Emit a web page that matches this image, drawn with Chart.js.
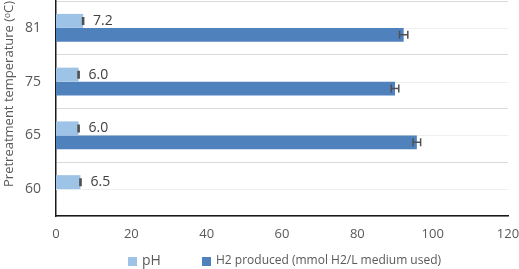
<!DOCTYPE html>
<html>
<head>
<meta charset="utf-8">
<script src="https://cdn.jsdelivr.net/npm/chart.js@4"></script>
<style>
  html, body { margin: 0; padding: 0; background: #fff; }
  #wrap { width: 519px; height: 269px; position: relative; }
</style>
</head>
<body>
<div id="wrap"><canvas id="chart"></canvas></div>
<script>
// temperatures, top to bottom as drawn
var categories = ['81', '75', '65', '60'];
var phValues = [7.2, 6.0, 6.0, 6.5];
var phErrors = [0.15, 0.15, 0.15, 0.15];
var h2Values = [92.3, 90.0, 95.8, null];
var h2Errors = [1.1, 1.0, 1.0, 0];
var xTicks = [0, 20, 40, 60, 80, 100, 120];

var FONT = '"Open Sans", sans-serif';
var grey = '#595959';

// light lines through each category centre
var midLines = {
    id: 'midLines',
    beforeDatasetsDraw: function (chart) {
        var ctx = chart.ctx, area = chart.chartArea, y = chart.scales.y;
        ctx.save();
        ctx.strokeStyle = '#efefef';
        ctx.lineWidth = 1;
        categories.forEach(function (c, i) {
            var py = Math.round(y.getPixelForValue(i)) + 0.5;
            ctx.beginPath();
            ctx.moveTo(area.left, py);
            ctx.lineTo(area.right, py);
            ctx.stroke();
        });
        ctx.restore();
    }
};

var errorBars = {
    id: 'errorBars',
    afterDatasetsDraw: function (chart) {
        var ctx = chart.ctx, x = chart.scales.x;
        chart.data.datasets.forEach(function (ds, i) {
            var meta = chart.getDatasetMeta(i);
            meta.data.forEach(function (bar, j) {
                var v = ds.data[j];
                if (v == null) return;
                var e = ds.errors[j];
                var x0 = x.getPixelForValue(v - e), x1 = x.getPixelForValue(v + e);
                var y = bar.y, h = 4;
                ctx.save();
                ctx.strokeStyle = '#505050';
                ctx.lineWidth = 1.5;
                ctx.beginPath();
                ctx.moveTo(x0, y); ctx.lineTo(x1, y);
                ctx.moveTo(x0, y - h); ctx.lineTo(x0, y + h);
                ctx.moveTo(x1, y - h); ctx.lineTo(x1, y + h);
                ctx.stroke();
                // value labels for pH only
                if (i === 0) {
                    ctx.fillStyle = '#404040';
                    ctx.font = '14px ' + FONT;
                    ctx.textBaseline = 'middle';
                    ctx.textAlign = 'left';
                    ctx.fillText(v.toFixed(1), bar.x + 10, y);
                }
                ctx.restore();
            });
        });
    }
};

var bottomLegend = {
    id: 'bottomLegend',
    afterDraw: function (chart) {
        var ctx = chart.ctx;
        var items = [
            { ds: chart.data.datasets[0], x: 128, size: 14 },
            { ds: chart.data.datasets[1], x: 202, size: 12 }
        ];
        ctx.save();
        items.forEach(function (it) {
            ctx.fillStyle = it.ds.backgroundColor;
            ctx.fillRect(it.x, 257, 9, 9);
            ctx.fillStyle = grey;
            ctx.font = it.size + 'px ' + FONT;
            ctx.textBaseline = 'middle';
            ctx.fillText(it.ds.label, it.x + 14, 261);
        });
        ctx.restore();
    }
};

new Chart(document.getElementById('chart').getContext('2d'), {
    type: 'bar',
    data: {
        labels: categories,
        datasets: [{
            label: 'pH',
            data: phValues,
            errors: phErrors,
            backgroundColor: '#9dc3e6',
            barPercentage: 1,
            categoryPercentage: 0.52
        }, {
            label: 'H2 produced (mmol H2/L medium used)',
            data: h2Values,
            errors: h2Errors,
            backgroundColor: '#4f81bd',
            barPercentage: 1,
            categoryPercentage: 0.52
        }]
    },
    options: {
        indexAxis: 'y',
        responsive: true,
        maintainAspectRatio: false,
        animation: false,
        layout: { padding: { top: 1, right: 0, bottom: 30, left: 0 } },
        plugins: {
            legend: { display: false },
            tooltip: { enabled: false }
        },
        scales: {
            x: {
                min: 0,
                max: 120,
                afterBuildTicks: function (s) { s.ticks = xTicks.map(function (v) { return { value: v }; }); },
                afterFit: function (s) { s.height = 23; s.paddingLeft = 0; s.paddingRight = 11; },
                grid: { display: false, drawTicks: false },
                border: { display: true, color: '#1a1a1a', width: 1.5 },
                ticks: { color: grey, font: { family: FONT, size: 13 }, padding: 10 }
            },
            y: {
                afterFit: function (s) { s.width = 56; s.paddingTop = 0; s.paddingBottom = 0; },
                grid: { color: '#d9d9d9', drawTicks: false, offset: true },
                border: { display: true, color: '#1a1a1a', width: 1.5 },
                ticks: { color: grey, font: { family: FONT, size: 14 }, padding: 15 },
                title: {
                    display: true,
                    text: 'Pretreatment temperature (ᵒC)',
                    align: 'end',
                    color: grey,
                    font: { family: FONT, size: 13 },
                    padding: { top: 1, bottom: 0 }
                }
            }
        }
    },
    plugins: [midLines, errorBars, bottomLegend]
});
</script>
</body>
</html>
